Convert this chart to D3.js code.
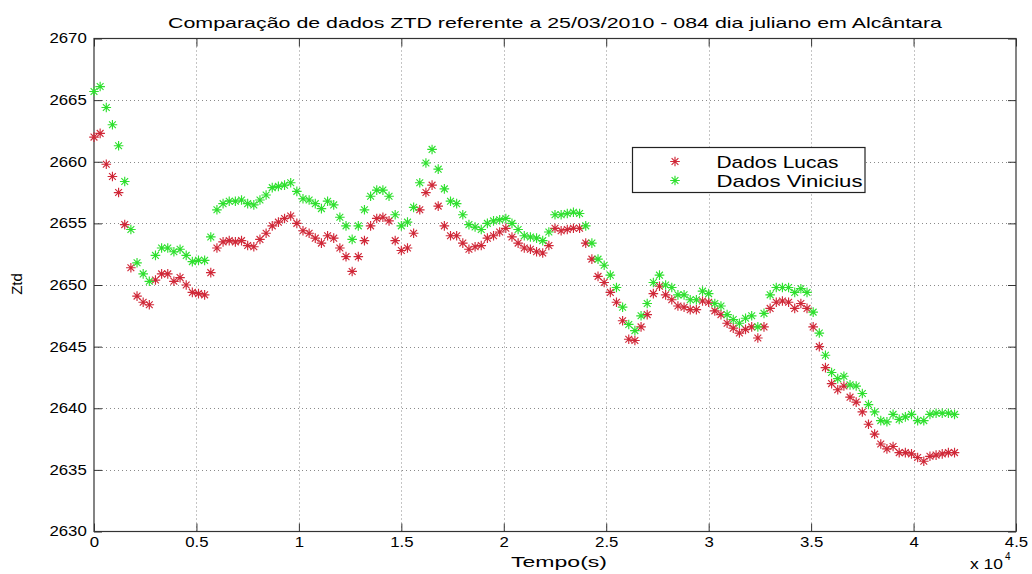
<!DOCTYPE html>
<html>
<head>
<meta charset="utf-8">
<script src="https://cdn.jsdelivr.net/npm/d3@7"></script>
<style>
  body { margin: 0; background: #fff; }
  text { font-family: "Liberation Sans", Arial, Helvetica, sans-serif; fill: #000; }
</style>
</head>
<body>
<svg id="chart" width="1032" height="574"></svg>
<script>
// Sampling instants (s)
const tempo = [
  0, 300, 600, 900, 1200, 1500, 1800, 2100, 2400, 2700,
  3000, 3300, 3600, 3900, 4200, 4500, 4800, 5100, 5400, 5700,
  6000, 6300, 6600, 6900, 7200, 7500, 7800, 8100, 8400, 8700,
  9000, 9300, 9600, 9900, 10200, 10500, 10800, 11100, 11400, 11700,
  12000, 12300, 12600, 12900, 13200, 13500, 13800, 14100, 14400, 14700,
  15000, 15300, 15600, 15900, 16200, 16500, 16800, 17100, 17400, 17700,
  18000, 18300, 18600, 18900, 19200, 19500, 19800, 20100, 20400, 20700,
  21000, 21300, 21600, 21900, 22200, 22500, 22800, 23100, 23400, 23700,
  24000, 24300, 24600, 24900, 25200, 25500, 25800, 26100, 26400, 26700,
  27000, 27300, 27600, 27900, 28200, 28500, 28800, 29100, 29400, 29700,
  30000, 30300, 30600, 30900, 31200, 31500, 31800, 32100, 32400, 32700,
  33000, 33300, 33600, 33900, 34200, 34500, 34800, 35100, 35400, 35700,
  36000, 36300, 36600, 36900, 37200, 37500, 37800, 38100, 38400, 38700,
  39000, 39300, 39600, 39900, 40200, 40500, 40800, 41100, 41400, 41700,
  42000
];

// ZTD series
const dadosLucas = [
  2662.0, 2662.3, 2659.8, 2658.8, 2657.5, 2654.9, 2651.4, 2649.1, 2648.6, 2648.4,
  2650.4, 2650.9, 2650.9, 2650.3, 2650.6, 2650.0, 2649.4, 2649.3, 2649.2, 2651.0,
  2653.0, 2653.5, 2653.6, 2653.5, 2653.6, 2653.2, 2653.1, 2653.7, 2654.2, 2654.8,
  2655.1, 2655.4, 2655.6, 2655.0, 2654.4, 2654.2, 2653.8, 2653.4, 2654.0, 2653.8,
  2653.0, 2652.3, 2651.1, 2652.3, 2653.6, 2654.8, 2655.4, 2655.5, 2655.2, 2653.6,
  2652.8, 2653.0, 2654.2, 2656.1, 2657.5, 2658.1, 2656.4, 2654.8, 2654.0, 2654.0,
  2653.4, 2652.9, 2653.1, 2653.2, 2653.8, 2654.0, 2654.3, 2654.6, 2653.9, 2653.4,
  2653.0, 2652.9, 2652.7, 2652.6, 2653.2, 2654.6, 2654.4, 2654.5, 2654.6, 2654.6,
  2653.4, 2652.1, 2650.7, 2650.2, 2649.4, 2648.6, 2647.1, 2645.6, 2645.5, 2646.6,
  2647.6, 2649.3, 2649.9, 2649.2, 2648.8, 2648.3, 2648.2, 2648.0, 2648.0, 2648.7,
  2648.6, 2647.9, 2647.6, 2646.9, 2646.5, 2646.1, 2646.4, 2646.6, 2645.7, 2646.6,
  2648.1, 2648.6, 2648.7, 2648.6, 2648.1, 2648.5, 2648.1, 2646.6, 2645.0, 2643.3,
  2642.0, 2641.5, 2641.8, 2640.9, 2640.5, 2639.7, 2638.7, 2637.9, 2637.1, 2636.7,
  2636.9, 2636.4, 2636.4, 2636.3, 2636.0, 2635.7, 2636.1, 2636.2, 2636.3, 2636.4,
  2636.4
];

const dadosVinicius = [
  2665.7, 2666.1, 2664.4, 2663.0, 2661.3, 2658.4, 2654.5, 2651.8, 2650.9, 2650.3,
  2652.4, 2653.0, 2653.0, 2652.7, 2652.9, 2652.4, 2651.9, 2652.0, 2652.0, 2653.9,
  2656.1, 2656.6, 2656.8, 2656.8, 2656.9, 2656.6, 2656.5, 2656.9, 2657.3, 2657.9,
  2658.0, 2658.1, 2658.3, 2657.6, 2657.0, 2656.9, 2656.6, 2656.2, 2656.8, 2656.5,
  2655.5, 2654.8, 2653.7, 2654.8, 2656.1, 2657.2, 2657.7, 2657.7, 2657.2, 2655.7,
  2654.8, 2655.1, 2656.3, 2658.3, 2659.9, 2661.0, 2659.4, 2657.8, 2656.8, 2656.6,
  2655.7, 2654.9, 2654.7, 2654.5, 2655.0, 2655.2, 2655.3, 2655.4, 2655.0, 2654.5,
  2654.0, 2653.9, 2653.8, 2653.6, 2654.3, 2655.7, 2655.7, 2655.8, 2655.9, 2655.8,
  2654.8, 2653.4, 2652.1, 2651.6, 2650.8, 2649.8, 2648.2, 2646.8, 2646.3, 2647.5,
  2648.5, 2650.2, 2650.8, 2650.0, 2649.8, 2649.2, 2649.2, 2648.8, 2648.8, 2649.5,
  2649.3, 2648.5, 2648.3, 2647.6, 2647.2, 2646.9, 2647.3, 2647.5, 2646.6, 2647.7,
  2649.2, 2649.8, 2649.8, 2649.8, 2649.4, 2649.7, 2649.4, 2647.8, 2646.1, 2644.3,
  2642.9, 2642.4, 2642.6, 2641.9, 2641.8, 2641.2, 2640.3, 2639.7, 2639.0, 2638.9,
  2639.5, 2639.1, 2639.3, 2639.5, 2639.0, 2639.0, 2639.5, 2639.6, 2639.6, 2639.6,
  2639.5
];

// Axis ticks
const xTickValues = [0, 5000, 10000, 15000, 20000, 25000, 30000, 35000, 40000, 45000];
const xTickLabels = ["0", "0.5", "1", "1.5", "2", "2.5", "3", "3.5", "4", "4.5"];
const yTickValues = [2630, 2635, 2640, 2645, 2650, 2655, 2660, 2665, 2670];
const yTickLabels = ["2630", "2635", "2640", "2645", "2650", "2655", "2660", "2665", "2670"];

const seriesNames = ["Dados Lucas", "Dados Vinicius"];
const seriesColors = ["#d02838", "#2ee02e"];

const titleText = "Comparação de dados ZTD referente a 25/03/2010 - 084 dia juliano em Alcântara";

const svg = d3.select("#chart");
const L = 94, R = 1016, T = 38.5, B = 531.5;
const x = d3.scaleLinear().domain([0, 45000]).range([L, R]);
const y = d3.scaleLinear().domain([2630, 2670]).range([B, T]);

// dotted grid
const grid = svg.append("g")
  .attr("stroke", "#8a8a8a").attr("stroke-width", 1).attr("stroke-dasharray", "1,3");
grid.selectAll("line.gx").data(xTickValues.slice(1, -1)).join("line")
  .attr("x1", d => Math.round(x(d)) + 0.5).attr("x2", d => Math.round(x(d)) + 0.5)
  .attr("y1", T).attr("y2", B);
grid.selectAll("line.gy").data(yTickValues.slice(1, -1)).join("line")
  .attr("x1", L).attr("x2", R)
  .attr("y1", d => Math.round(y(d)) + 0.5).attr("y2", d => Math.round(y(d)) + 0.5);

// axes with inward ticks
const tickLen = -8;
const sx = 1.2;
const gB = svg.append("g").attr("transform", `translate(0,${B})`)
  .call(d3.axisBottom(x).tickValues(xTickValues).tickFormat((d, i) => xTickLabels[i])
    .tickSize(tickLen).tickPadding(6));
const gT = svg.append("g").attr("transform", `translate(0,${T})`)
  .call(d3.axisTop(x).tickValues(xTickValues).tickFormat("").tickSize(tickLen));
const gL = svg.append("g").attr("transform", `translate(${L},0)`)
  .call(d3.axisLeft(y).tickValues(yTickValues).tickFormat((d, i) => yTickLabels[i])
    .tickSize(tickLen).tickPadding(6));
const gR = svg.append("g").attr("transform", `translate(${R},0)`)
  .call(d3.axisRight(y).tickValues(yTickValues).tickFormat("").tickSize(tickLen));

[gB, gT, gL, gR].forEach(g => {
  g.select(".domain").remove();
  g.attr("font-family", null).attr("font-size", null);
  g.selectAll(".tick line").attr("stroke", "#333");
  g.selectAll(".tick text").attr("font-size", 14).attr("fill", "#000")
    .attr("transform", `scale(${sx},1)`);
});

// axes box
svg.append("rect")
  .attr("x", L).attr("y", T).attr("width", R - L).attr("height", B - T)
  .attr("fill", "none").attr("stroke", "#333").attr("stroke-width", 1.2);

// asterisk marker
function star(r) {
  const d = r * Math.SQRT1_2;
  return `M${-r},0L${r},0M0,${-r}L0,${r}M${-d},${-d}L${d},${d}M${-d},${d}L${d},${-d}`;
}

[dadosLucas, dadosVinicius].forEach((vals, k) => {
  svg.append("g")
    .attr("fill", "none").attr("stroke", seriesColors[k]).attr("stroke-width", 1.15)
    .selectAll("path").data(vals).join("path")
    .attr("transform", (d, i) => `translate(${x(tempo[i])},${y(d)})`)
    .attr("d", star(4.8));
});

// title
svg.append("text")
  .attr("x", 555).attr("y", 28).attr("text-anchor", "middle")
  .attr("font-size", 15).attr("textLength", 774).attr("lengthAdjust", "spacingAndGlyphs")
  .text(titleText);

// axis labels
svg.append("text")
  .attr("x", 559).attr("y", 567).attr("text-anchor", "middle")
  .attr("font-size", 15).attr("textLength", 96).attr("lengthAdjust", "spacingAndGlyphs")
  .text("Tempo(s)");
svg.append("text")
  .attr("transform", "translate(22,284) rotate(-90)").attr("text-anchor", "middle")
  .attr("font-size", 15)
  .text("Ztd");

// exponent note
svg.append("text").attr("x", 970).attr("y", 569).attr("font-size", 14)
  .attr("textLength", 33).attr("lengthAdjust", "spacingAndGlyphs")
  .text("x 10");
svg.append("text").attr("x", 1005).attr("y", 560).attr("font-size", 10).text("4");

// legend
const lg = svg.append("g");
lg.append("rect").attr("x", 632.5).attr("y", 147.5).attr("width", 232.5).attr("height", 45)
  .attr("fill", "#fff").attr("stroke", "#222").attr("stroke-width", 1.2);
seriesNames.forEach((name, k) => {
  const cy = 161.5 + k * 19;
  lg.append("path").attr("transform", `translate(675,${cy})`).attr("d", star(4.8))
    .attr("fill", "none").attr("stroke", seriesColors[k]).attr("stroke-width", 1.15);
  lg.append("text").attr("x", 716.5).attr("y", cy + 6).attr("font-size", 17)
    .attr("textLength", k === 0 ? 122 : 146).attr("lengthAdjust", "spacingAndGlyphs")
    .text(name);
});
</script>
</body>
</html>
